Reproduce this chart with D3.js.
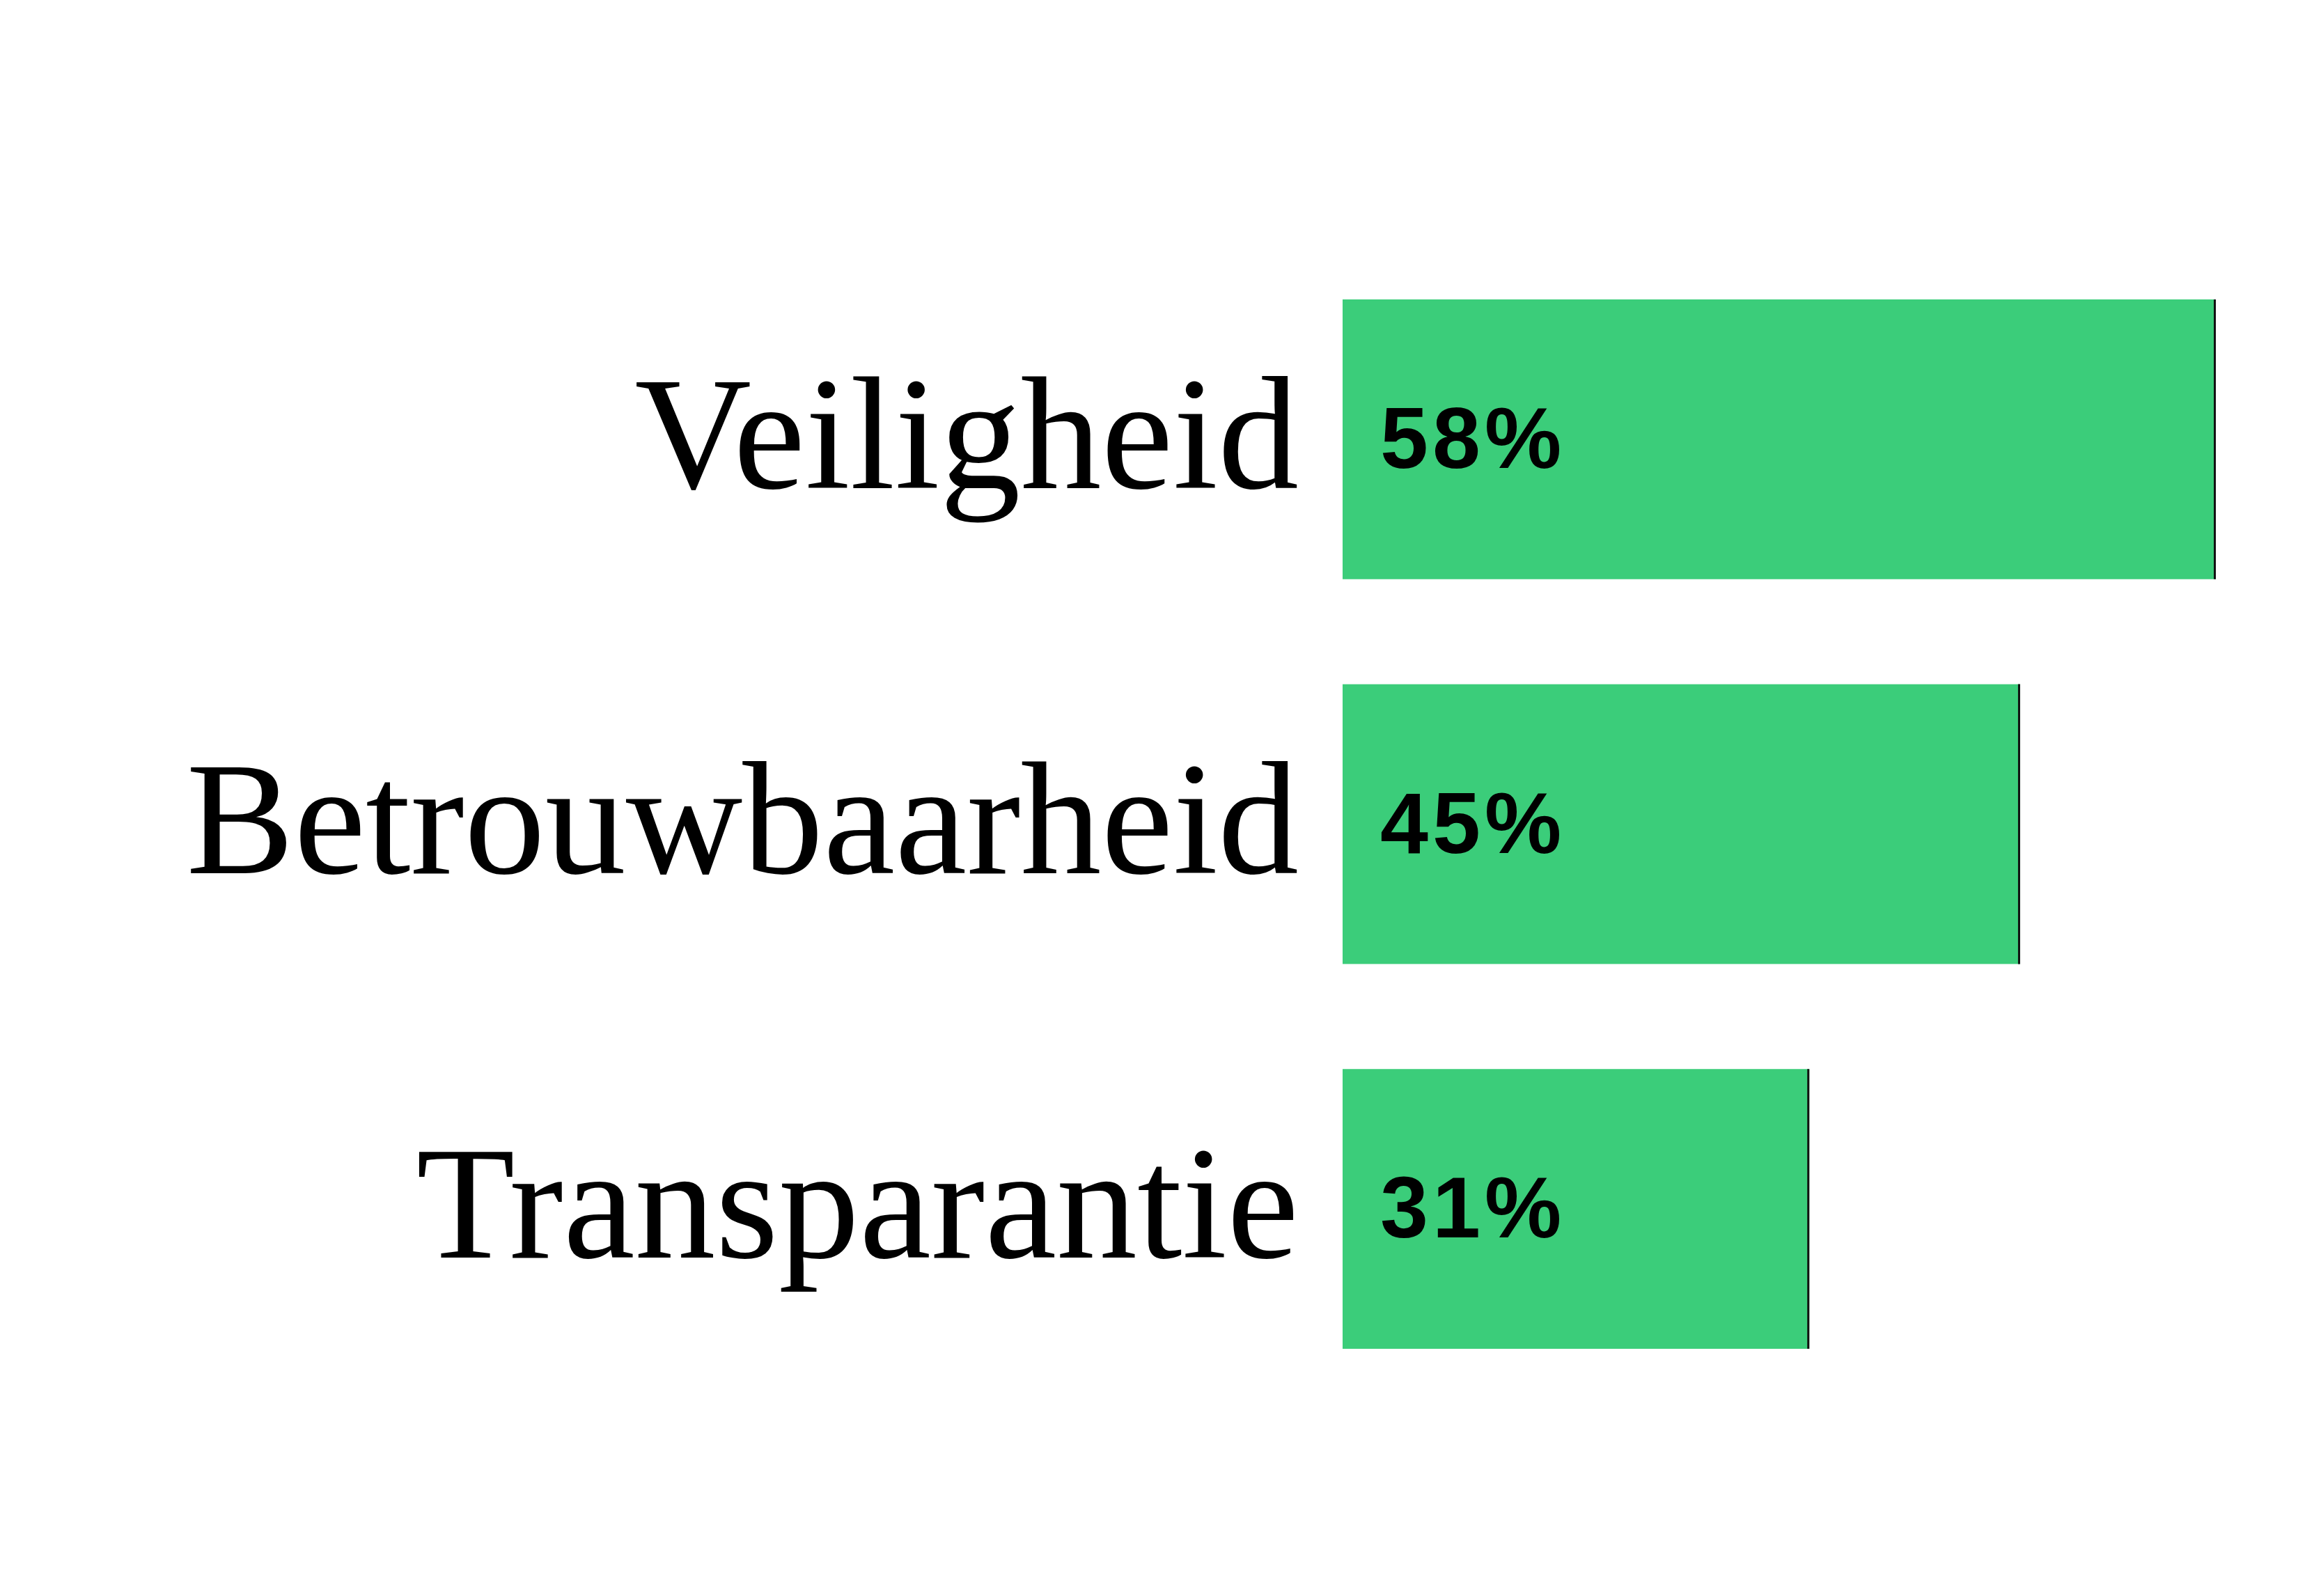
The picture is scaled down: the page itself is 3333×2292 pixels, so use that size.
<!DOCTYPE html>
<html>
<head>
<meta charset="utf-8">
<script src="https://cdn.jsdelivr.net/npm/d3@7"></script>
<style>
  html, body { margin: 0; padding: 0; background: #fff; }
  svg { display: block; }
</style>
</head>
<body>
<script>
// chart data
var categories = ["Veiligheid", "Betrouwbaarheid", "Transparantie"];
var values = [58, 45, 31];
var valueLabels = ["58%", "45%", "31%"];

var width = 3333, height = 2292;

var svg = d3.select("body")
  .append("svg")
  .attr("width", width)
  .attr("height", height);

// horizontal scale: bars start at 1928
var x = d3.scaleLinear()
  .domain([0, d3.max(values)])
  .range([1928, 3182]);

// one band per category
var y = d3.scaleBand()
  .domain(categories)
  .range([430, 1937])
  .paddingInner(0.273)
  .paddingOuter(0);

var data = categories.map(function(c, i) {
  return {name: c, value: values[i], label: valueLabels[i]};
});

var rows = svg.selectAll("g.row")
  .data(data)
  .enter()
  .append("g")
  .attr("class", "row");

// green bars
rows.append("rect")
  .attr("x", x(0))
  .attr("y", function(d) { return y(d.name); })
  .attr("width", function(d) { return x(d.value) - x(0); })
  .attr("height", y.bandwidth())
  .attr("fill", "#3bcd7a");

// thin dark end line on each bar
rows.append("line")
  .attr("x1", function(d) { return x(d.value) - 1.5; })
  .attr("x2", function(d) { return x(d.value) - 1.5; })
  .attr("y1", function(d) { return y(d.name); })
  .attr("y2", function(d) { return y(d.name) + y.bandwidth(); })
  .attr("stroke", "#111")
  .attr("stroke-width", 3);

// category labels, serif, right aligned
rows.append("text")
  .attr("x", 1865)
  .attr("y", function(d) { return y(d.name) + y.bandwidth() / 2 + 70; })
  .attr("text-anchor", "end")
  .attr("font-family", "'Liberation Serif', 'Times New Roman', serif")
  .attr("font-size", 232)
  .attr("fill", "#000")
  .text(function(d) { return d.name; });

// value labels inside the bars
rows.append("text")
  .attr("x", x(0) + 54)
  .attr("y", function(d) { return y(d.name) + y.bandwidth() / 2 + 41; })
  .attr("font-family", "'Liberation Sans', Arial, Helvetica, sans-serif")
  .attr("font-weight", "bold")
  .attr("font-size", 124)
  .attr("letter-spacing", 6)
  .attr("fill", "#000")
  .text(function(d) { return d.label; });
</script>
</body>
</html>
